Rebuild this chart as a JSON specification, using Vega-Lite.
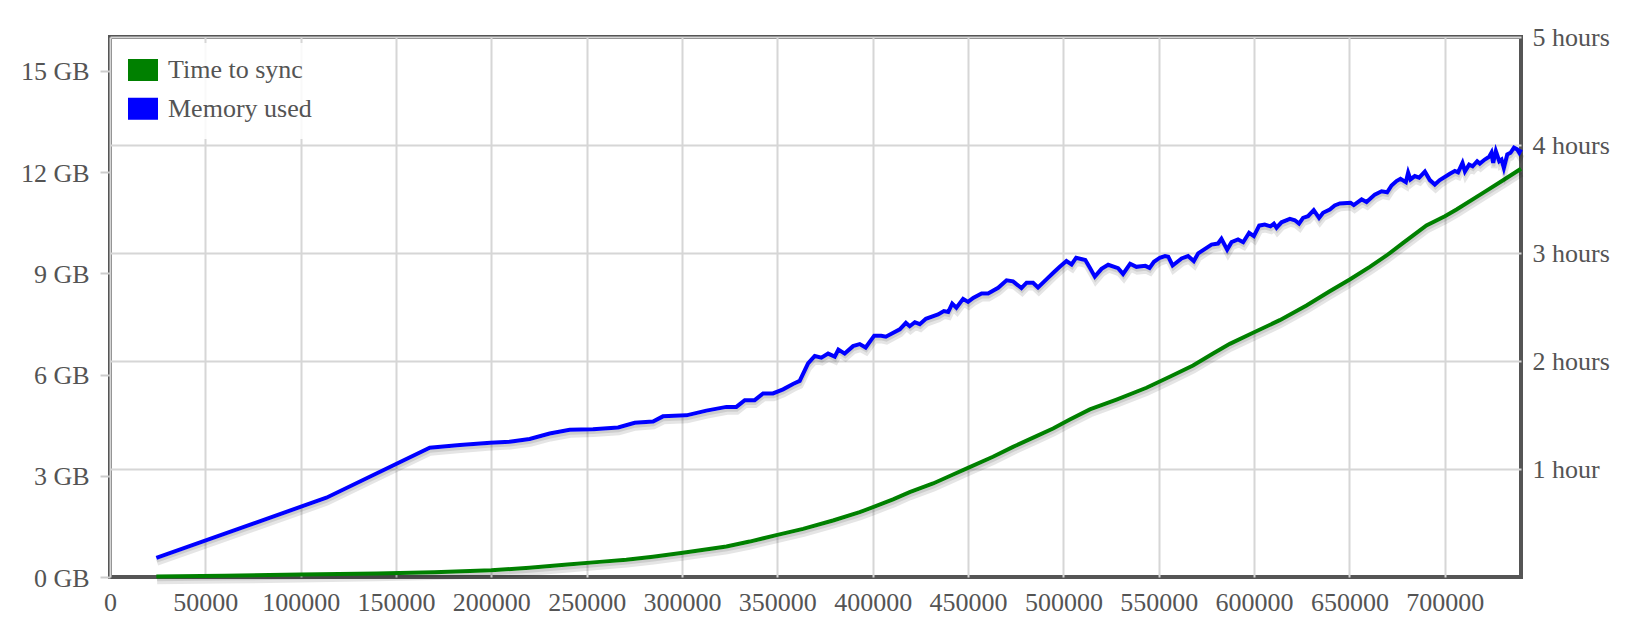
{
  "$schema": "https://vega.github.io/schema/vega-lite/v6.json",
  "width": 1411,
  "height": 540,
  "autosize": {"type": "none"},
  "padding": {"left": 110, "top": 37, "right": 109, "bottom": 59},
  "background": "white",
  "config": {
    "view": {"stroke": "#555555", "strokeWidth": 4},
    "font": "Liberation Serif",
    "axis": {
      "labelFont": "Liberation Serif",
      "labelFontSize": 26,
      "labelColor": "#545454",
      "domain": false,
      "gridColor": "#d6d6d6",
      "gridWidth": 2,
      "labelFlush": false,
      "labelOverlap": false
    },
    "legend": {
      "orient": "top-left",
      "offset": 6,
      "padding": 14,
      "fillColor": "rgba(255,255,255,0.85)",
      "rowPadding": 6.8,
      "labelOffset": 12,
      "labelFont": "Liberation Serif",
      "labelFontSize": 26,
      "labelColor": "#545454",
      "symbolType": "M-1.174,-0.826L1.174,-0.826L1.174,0.826L-1.174,0.826Z",
      "symbolSize": 529,
      "symbolStrokeColor": "#cccccc",
      "symbolStrokeWidth": 3
    }
  },
  "datasets": {
    "sync": [
      {"blocks": 24300, "hours": 0.005},
      {"blocks": 60000, "hours": 0.012},
      {"blocks": 100000, "hours": 0.022},
      {"blocks": 140000, "hours": 0.033},
      {"blocks": 170000, "hours": 0.045},
      {"blocks": 200000, "hours": 0.062},
      {"blocks": 220000, "hours": 0.085},
      {"blocks": 240000, "hours": 0.115},
      {"blocks": 256800, "hours": 0.14},
      {"blocks": 270800, "hours": 0.16},
      {"blocks": 284800, "hours": 0.188},
      {"blocks": 300500, "hours": 0.225},
      {"blocks": 323300, "hours": 0.283},
      {"blocks": 335500, "hours": 0.328},
      {"blocks": 349500, "hours": 0.388},
      {"blocks": 363500, "hours": 0.446},
      {"blocks": 379200, "hours": 0.523},
      {"blocks": 393200, "hours": 0.6},
      {"blocks": 400200, "hours": 0.646},
      {"blocks": 410700, "hours": 0.718},
      {"blocks": 419400, "hours": 0.785},
      {"blocks": 431700, "hours": 0.866},
      {"blocks": 442200, "hours": 0.949},
      {"blocks": 450000, "hours": 1.01},
      {"blocks": 463100, "hours": 1.113},
      {"blocks": 473600, "hours": 1.205},
      {"blocks": 485900, "hours": 1.304},
      {"blocks": 494600, "hours": 1.375},
      {"blocks": 503400, "hours": 1.458},
      {"blocks": 513900, "hours": 1.552},
      {"blocks": 527900, "hours": 1.643},
      {"blocks": 543600, "hours": 1.752},
      {"blocks": 555800, "hours": 1.854},
      {"blocks": 568000, "hours": 1.958},
      {"blocks": 578500, "hours": 2.069},
      {"blocks": 587300, "hours": 2.159},
      {"blocks": 599500, "hours": 2.261},
      {"blocks": 613500, "hours": 2.378},
      {"blocks": 627500, "hours": 2.514},
      {"blocks": 639700, "hours": 2.646},
      {"blocks": 650200, "hours": 2.755},
      {"blocks": 660700, "hours": 2.872},
      {"blocks": 669500, "hours": 2.977},
      {"blocks": 678200, "hours": 3.094},
      {"blocks": 690400, "hours": 3.255},
      {"blocks": 700100, "hours": 3.341},
      {"blocks": 706200, "hours": 3.403},
      {"blocks": 720100, "hours": 3.557},
      {"blocks": 730600, "hours": 3.674},
      {"blocks": 740000, "hours": 3.78}
    ],
    "memory": [
      {"blocks": 24300, "gb": 0.57},
      {"blocks": 113500, "gb": 2.35},
      {"blocks": 167700, "gb": 3.83},
      {"blocks": 183600, "gb": 3.91},
      {"blocks": 199500, "gb": 3.98},
      {"blocks": 209600, "gb": 4.01},
      {"blocks": 220100, "gb": 4.09},
      {"blocks": 230600, "gb": 4.25},
      {"blocks": 241100, "gb": 4.36},
      {"blocks": 253300, "gb": 4.38},
      {"blocks": 266500, "gb": 4.43},
      {"blocks": 275200, "gb": 4.57},
      {"blocks": 284800, "gb": 4.61},
      {"blocks": 290000, "gb": 4.76},
      {"blocks": 302300, "gb": 4.79},
      {"blocks": 312800, "gb": 4.93},
      {"blocks": 323300, "gb": 5.04},
      {"blocks": 328500, "gb": 5.04},
      {"blocks": 332900, "gb": 5.24},
      {"blocks": 338100, "gb": 5.24},
      {"blocks": 342500, "gb": 5.44},
      {"blocks": 347700, "gb": 5.44},
      {"blocks": 353000, "gb": 5.56},
      {"blocks": 358200, "gb": 5.72},
      {"blocks": 361700, "gb": 5.81},
      {"blocks": 366100, "gb": 6.33},
      {"blocks": 369600, "gb": 6.55},
      {"blocks": 373100, "gb": 6.5},
      {"blocks": 376600, "gb": 6.62},
      {"blocks": 380100, "gb": 6.53},
      {"blocks": 382000, "gb": 6.74},
      {"blocks": 385300, "gb": 6.62},
      {"blocks": 389700, "gb": 6.84},
      {"blocks": 393200, "gb": 6.9},
      {"blocks": 396300, "gb": 6.8},
      {"blocks": 400800, "gb": 7.15},
      {"blocks": 404500, "gb": 7.15},
      {"blocks": 406900, "gb": 7.12},
      {"blocks": 414200, "gb": 7.34},
      {"blocks": 417400, "gb": 7.53},
      {"blocks": 419400, "gb": 7.43},
      {"blocks": 422100, "gb": 7.55},
      {"blocks": 424700, "gb": 7.49},
      {"blocks": 427900, "gb": 7.65},
      {"blocks": 434300, "gb": 7.78},
      {"blocks": 437300, "gb": 7.88},
      {"blocks": 439600, "gb": 7.85},
      {"blocks": 441700, "gb": 8.1},
      {"blocks": 443900, "gb": 7.98},
      {"blocks": 447400, "gb": 8.24},
      {"blocks": 450000, "gb": 8.15},
      {"blocks": 452700, "gb": 8.27},
      {"blocks": 457100, "gb": 8.4},
      {"blocks": 460500, "gb": 8.4},
      {"blocks": 465800, "gb": 8.57},
      {"blocks": 470200, "gb": 8.79},
      {"blocks": 473600, "gb": 8.76},
      {"blocks": 478000, "gb": 8.56},
      {"blocks": 480700, "gb": 8.72},
      {"blocks": 484100, "gb": 8.72},
      {"blocks": 486700, "gb": 8.58},
      {"blocks": 491100, "gb": 8.82},
      {"blocks": 495000, "gb": 9.03},
      {"blocks": 498100, "gb": 9.19},
      {"blocks": 501600, "gb": 9.36},
      {"blocks": 504300, "gb": 9.26},
      {"blocks": 506700, "gb": 9.46},
      {"blocks": 511500, "gb": 9.39},
      {"blocks": 513900, "gb": 9.16},
      {"blocks": 516500, "gb": 8.9},
      {"blocks": 520000, "gb": 9.13},
      {"blocks": 523500, "gb": 9.25},
      {"blocks": 528700, "gb": 9.15},
      {"blocks": 531300, "gb": 8.98},
      {"blocks": 535000, "gb": 9.28},
      {"blocks": 538300, "gb": 9.19},
      {"blocks": 543000, "gb": 9.22},
      {"blocks": 545200, "gb": 9.16},
      {"blocks": 547500, "gb": 9.34},
      {"blocks": 550600, "gb": 9.46},
      {"blocks": 553300, "gb": 9.51},
      {"blocks": 555000, "gb": 9.49},
      {"blocks": 557300, "gb": 9.23},
      {"blocks": 562000, "gb": 9.44},
      {"blocks": 565400, "gb": 9.51},
      {"blocks": 568400, "gb": 9.36},
      {"blocks": 570700, "gb": 9.59},
      {"blocks": 577700, "gb": 9.85},
      {"blocks": 581100, "gb": 9.88},
      {"blocks": 582900, "gb": 10.02},
      {"blocks": 585900, "gb": 9.7},
      {"blocks": 588200, "gb": 9.92},
      {"blocks": 591600, "gb": 10.0},
      {"blocks": 594300, "gb": 9.92},
      {"blocks": 597400, "gb": 10.2},
      {"blocks": 599900, "gb": 10.1},
      {"blocks": 602700, "gb": 10.41},
      {"blocks": 605600, "gb": 10.44},
      {"blocks": 608600, "gb": 10.39},
      {"blocks": 610400, "gb": 10.47},
      {"blocks": 611800, "gb": 10.35},
      {"blocks": 614400, "gb": 10.51},
      {"blocks": 618800, "gb": 10.61},
      {"blocks": 621400, "gb": 10.57},
      {"blocks": 623600, "gb": 10.47},
      {"blocks": 625700, "gb": 10.64},
      {"blocks": 628300, "gb": 10.69},
      {"blocks": 631300, "gb": 10.87},
      {"blocks": 634100, "gb": 10.64},
      {"blocks": 636200, "gb": 10.79},
      {"blocks": 639700, "gb": 10.89},
      {"blocks": 642300, "gb": 11.01},
      {"blocks": 645000, "gb": 11.07},
      {"blocks": 650600, "gb": 11.09},
      {"blocks": 652300, "gb": 11.02},
      {"blocks": 656400, "gb": 11.19},
      {"blocks": 659000, "gb": 11.11},
      {"blocks": 663300, "gb": 11.33},
      {"blocks": 666900, "gb": 11.43},
      {"blocks": 669800, "gb": 11.4},
      {"blocks": 672100, "gb": 11.6},
      {"blocks": 674700, "gb": 11.73},
      {"blocks": 676800, "gb": 11.8},
      {"blocks": 679600, "gb": 11.7},
      {"blocks": 680800, "gb": 11.98},
      {"blocks": 682000, "gb": 11.78},
      {"blocks": 684300, "gb": 11.88},
      {"blocks": 686600, "gb": 11.83},
      {"blocks": 689600, "gb": 12.01},
      {"blocks": 692200, "gb": 11.76},
      {"blocks": 694800, "gb": 11.63},
      {"blocks": 697400, "gb": 11.76},
      {"blocks": 702700, "gb": 11.95},
      {"blocks": 705300, "gb": 12.03},
      {"blocks": 707000, "gb": 11.99},
      {"blocks": 709300, "gb": 12.27},
      {"blocks": 710600, "gb": 12.02},
      {"blocks": 712800, "gb": 12.22},
      {"blocks": 714600, "gb": 12.17},
      {"blocks": 717000, "gb": 12.32},
      {"blocks": 718400, "gb": 12.25},
      {"blocks": 721000, "gb": 12.37},
      {"blocks": 723300, "gb": 12.45},
      {"blocks": 724500, "gb": 12.57},
      {"blocks": 725400, "gb": 12.27},
      {"blocks": 726800, "gb": 12.62},
      {"blocks": 728600, "gb": 12.32},
      {"blocks": 729800, "gb": 12.37},
      {"blocks": 731000, "gb": 12.12},
      {"blocks": 732800, "gb": 12.52},
      {"blocks": 734500, "gb": 12.57},
      {"blocks": 736300, "gb": 12.72},
      {"blocks": 738000, "gb": 12.67},
      {"blocks": 739100, "gb": 12.57},
      {"blocks": 740000, "gb": 12.67}
    ]
  },
  "encoding": {
    "x": {
      "field": "blocks",
      "type": "quantitative",
      "scale": {"domain": [0, 740000], "nice": false},
      "axis": {
        "title": null,
        "values": [0, 50000, 100000, 150000, 200000, 250000, 300000, 350000, 400000, 450000, 500000, 550000, 600000, 650000, 700000],
        "format": "d",
        "ticks": false,
        "labelPadding": 12,
        "grid": true
      }
    }
  },
  "layer": [
    {
      "data": {"name": "sync"},
      "encoding": {
        "y": {
          "field": "hours",
          "type": "quantitative",
          "scale": {"domain": [0, 5], "nice": false},
          "axis": {
            "orient": "right",
            "title": null,
            "values": [1, 2, 3, 4, 5],
            "labelExpr": "datum.value == 1 ? '1 hour' : datum.value + ' hours'",
            "ticks": false,
            "labelPadding": 11,
            "grid": true
          }
        }
      },
      "layer": [
        {"mark": {"type": "line", "stroke": "black", "strokeOpacity": 0.1, "strokeWidth": 6, "yOffset": 4.9, "xOffset": 0.8}},
        {"mark": {"type": "line", "stroke": "black", "strokeOpacity": 0.1, "strokeWidth": 3, "yOffset": 3.4, "xOffset": 0.6}},
        {
          "mark": {"type": "line", "strokeWidth": 4},
          "encoding": {
            "color": {
              "datum": "Time to sync",
              "type": "nominal",
              "scale": {"domain": ["Time to sync", "Memory used"], "range": ["#008000", "#0000ff"]},
              "legend": {
                "title": null,
                "encode": {"symbols": {"update": {"fill": {"scale": "color", "field": "value"}, "stroke": {"value": "#cccccc"}, "strokeWidth": {"value": 3}, "fillOpacity": {"value": 1}, "strokeOpacity": {"value": 1}}}}
              }
            }
          }
        }
      ]
    },
    {
      "data": {"name": "memory"},
      "encoding": {
        "y": {
          "field": "gb",
          "type": "quantitative",
          "scale": {"domain": [0, 16], "nice": false},
          "axis": {
            "orient": "left",
            "title": null,
            "values": [0, 3, 6, 9, 12, 15],
            "labelExpr": "datum.value + ' GB'",
            "ticks": true,
            "tickSize": 10,
            "tickColor": "#cccccc",
            "tickWidth": 2,
            "labelPadding": 11,
            "labelOffset": 1,
            "grid": false
          }
        }
      },
      "layer": [
        {"mark": {"type": "line", "stroke": "black", "strokeOpacity": 0.1, "strokeWidth": 6, "yOffset": 4.9, "xOffset": 0.8}},
        {"mark": {"type": "line", "stroke": "black", "strokeOpacity": 0.1, "strokeWidth": 3, "yOffset": 3.4, "xOffset": 0.6}},
        {
          "mark": {"type": "line", "strokeWidth": 4},
          "encoding": {
            "color": {
              "datum": "Memory used",
              "type": "nominal",
              "scale": {"domain": ["Time to sync", "Memory used"], "range": ["#008000", "#0000ff"]},
              "legend": {
                "title": null,
                "encode": {"symbols": {"update": {"fill": {"scale": "color", "field": "value"}, "stroke": {"value": "#cccccc"}, "strokeWidth": {"value": 3}, "fillOpacity": {"value": 1}, "strokeOpacity": {"value": 1}}}}
              }
            }
          }
        }
      ]
    }
  ],
  "resolve": {"scale": {"y": "independent"}}
}
